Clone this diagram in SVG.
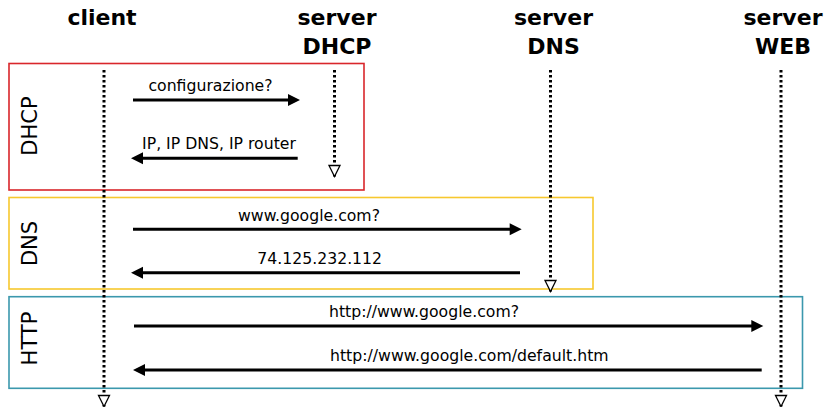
<svg xmlns="http://www.w3.org/2000/svg" width="827" height="407" viewBox="0 0 827 407">
  <style>
    .head { font-family: "DejaVu Sans", sans-serif; font-weight: bold; font-size: 22px; fill: #000; text-anchor: middle; }
    .side { font-family: "DejaVu Sans", sans-serif; font-size: 21px; fill: #000; text-anchor: middle; }
    .msg { font-family: "DejaVu Sans", sans-serif; font-size: 15.7px; fill: #000; text-anchor: middle; }
    .life { stroke: #000; stroke-width: 3; stroke-dasharray: 2.5 2.5; fill: none; marker-end: url(#open); }
    .call { stroke: #000; stroke-width: 3; fill: none; marker-end: url(#solid); }
    .frame { fill: none; stroke-width: 1.6; }
  </style>
  <defs>
    <!-- open triangle closing each lifeline -->
    <marker id="open" markerUnits="userSpaceOnUse" markerWidth="14" markerHeight="14" viewBox="0 0 14 14" refX="7" refY="12.5" orient="0" overflow="visible">
      <path d="M1.5,1.5 L12.5,1.5 L7,12.5 Z" fill="#fff" stroke="#000" stroke-width="1.3" stroke-linejoin="miter"/>
    </marker>
    <!-- filled head for messages -->
    <marker id="solid" markerUnits="userSpaceOnUse" markerWidth="12" markerHeight="12" viewBox="0 0 12 12" refX="2" refY="6" orient="auto" overflow="visible">
      <path d="M0,0 L12,6 L0,12 Z" fill="#000"/>
    </marker>
  </defs>

  <rect width="827" height="407" fill="#fff"/>

  <!-- protocol phases -->
  <g id="phase-dhcp">
    <rect class="frame" x="9" y="63.5" width="355" height="126.5" stroke="#d9262b"/>
    <text class="side" transform="translate(37,126) rotate(-90)">DHCP</text>
  </g>
  <g id="phase-dns">
    <rect class="frame" x="9" y="197.5" width="584" height="91.5" stroke="#f7c82e"/>
    <text class="side" transform="translate(37,243.5) rotate(-90)">DNS</text>
  </g>
  <g id="phase-http">
    <rect class="frame" x="9" y="296.7" width="793.5" height="91.6" stroke="#3b98ad"/>
    <text class="side" transform="translate(37,338.5) rotate(-90)">HTTP</text>
  </g>

  <!-- participants -->
  <g id="client">
    <text class="head" x="102" y="25">client</text>
  </g>
  <g id="server-dhcp">
    <text class="head" x="337" y="25">server</text>
    <text class="head" x="337" y="54">DHCP</text>
  </g>
  <g id="server-dns">
    <text class="head" x="553.5" y="25">server</text>
    <text class="head" x="553.5" y="54">DNS</text>
  </g>
  <g id="server-web">
    <text class="head" x="783" y="25">server</text>
    <text class="head" x="783" y="54">WEB</text>
  </g>

  <!-- lifelines and messages -->
  <g id="connectors">
    <line class="life" x1="104" y1="70" x2="104" y2="406.5"/>
    <line class="life" x1="334.5" y1="70" x2="334.5" y2="176.5"/>
    <line class="life" x1="550.5" y1="70" x2="550.5" y2="291.5"/>
    <line class="life" x1="781" y1="70" x2="781" y2="406.5"/>

    <line class="call" x1="133" y1="100" x2="290" y2="100"/>
    <text class="msg" x="210.5" y="91">configurazione?</text>

    <line class="call" x1="297.7" y1="158.3" x2="141" y2="158.3"/>
    <text class="msg" x="219" y="149">IP, IP DNS, IP router</text>

    <line class="call" x1="133" y1="229.3" x2="511.7" y2="229.3"/>
    <text class="msg" x="309" y="221">www.google.com?</text>

    <line class="call" x1="520" y1="272.7" x2="141" y2="272.7"/>
    <text class="msg" x="319.7" y="264">74.125.232.112</text>

    <line class="call" x1="134" y1="326" x2="753.3" y2="326"/>
    <text class="msg" x="424" y="316.7">http://www.google.com?</text>

    <line class="call" x1="761.7" y1="370" x2="143" y2="370"/>
    <text class="msg" x="469.3" y="360.7">http://www.google.com/default.htm</text>
  </g>
</svg>
